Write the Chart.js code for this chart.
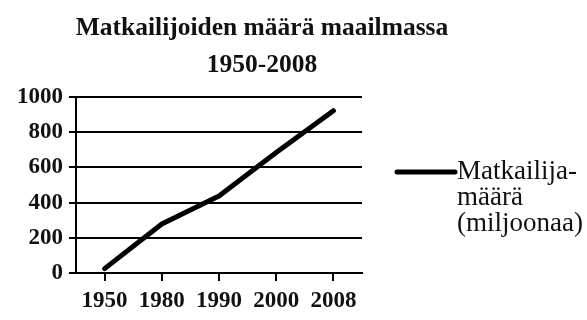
<!DOCTYPE html>
<html>
<head>
<meta charset="utf-8">
<script src="https://cdn.jsdelivr.net/npm/chart.js@4"></script>
<style>
    html, body { margin: 0; padding: 0; background: #fff; }
    #wrap { width: 587px; height: 320px; position: relative; }
</style>
</head>
<body>
<div id="wrap"><canvas id="chart"></canvas></div>
<script>
const years = ['1950', '1980', '1990', '2000', '2008'];
const tourists = [25, 278, 438, 684, 922];   // millions
const yTicks = [0, 200, 400, 600, 800, 1000];
const titleLines = ['Matkailijoiden määrä maailmassa', '1950-2008'];
const legendLines = ['Matkailija-', 'määrä', '(miljoonaa)'];

const SERIF = '"Liberation Serif", "Times New Roman", serif';

// Two-line heading, centred a bit left of the canvas middle
const titleBlock = {
    id: 'titleBlock',
    afterDraw(chart) {
        const ctx = chart.ctx;
        ctx.save();
        ctx.fillStyle = '#111';
        ctx.font = 'bold 25.5px ' + SERIF;
        ctx.textAlign = 'center';
        ctx.textBaseline = 'alphabetic';
        titleLines.forEach((line, i) => ctx.fillText(line, 262, 35 + i * 37));
        ctx.restore();
    }
};

// Legend to the right of the plot, text wrapped over three lines
const sideLegend = {
    id: 'sideLegend',
    afterDraw(chart) {
        const ctx = chart.ctx;
        const ds = chart.data.datasets[0];
        const x0 = chart.chartArea.right + 35;
        const y0 = 172;
        ctx.save();
        ctx.strokeStyle = ds.borderColor;
        ctx.lineWidth = ds.borderWidth;
        ctx.lineCap = 'round';
        ctx.beginPath();
        ctx.moveTo(x0, y0);
        ctx.lineTo(x0 + 58, y0);
        ctx.stroke();
        ctx.fillStyle = '#111';
        ctx.font = '27px ' + SERIF;
        ctx.textAlign = 'left';
        ctx.textBaseline = 'alphabetic';
        legendLines.forEach((line, i) => ctx.fillText(line, x0 + 60, 179 + i * 26));
        ctx.restore();
    }
};

const tickFont = { family: SERIF, size: 23, weight: 'bold' };

function buildChart() {
    return new Chart(document.getElementById('chart'), {
        type: 'line',
        data: {
            labels: years,
            datasets: [{
                label: legendLines.join(' '),
                data: tourists,
                borderColor: '#000',
                borderWidth: 5,
                borderCapStyle: 'round',
                borderJoinStyle: 'round',
                pointRadius: 0,
                tension: 0
            }]
        },
        options: {
            responsive: true,
            maintainAspectRatio: false,
            animation: false,
            layout: { padding: { top: 97, right: 225, bottom: 0, left: 0 } },
            plugins: {
                legend: { display: false },
                title: { display: false },
                tooltip: { enabled: false }
            },
            scales: {
                x: {
                    offset: true,
                    grid: { drawOnChartArea: false, color: '#000', lineWidth: 2, tickLength: 8 },
                    border: { color: '#000', width: 2 },
                    ticks: { color: '#111', font: tickFont, padding: 6, maxRotation: 0 },
                    afterFit(scale) { scale.height = 47; }
                },
                y: {
                    min: yTicks[0],
                    max: yTicks[yTicks.length - 1],
                    afterBuildTicks(scale) { scale.ticks = yTicks.map(v => ({ value: v })); },
                    grid: { color: '#000', lineWidth: 2, tickLength: 7 },
                    border: { color: '#000', width: 2 },
                    ticks: { color: '#111', font: tickFont, padding: 6, callback: v => String(v) },
                    afterFit(scale) { scale.width = 76; }
                }
            }
        },
        plugins: [titleBlock, sideLegend]
    });
}

// make sure both serif faces are ready before the single, unanimated draw
Promise.all([
    document.fonts.load('27px "Liberation Serif"'),
    document.fonts.load('bold 25px "Liberation Serif"')
]).then(buildChart, buildChart);
</script>
</body>
</html>
